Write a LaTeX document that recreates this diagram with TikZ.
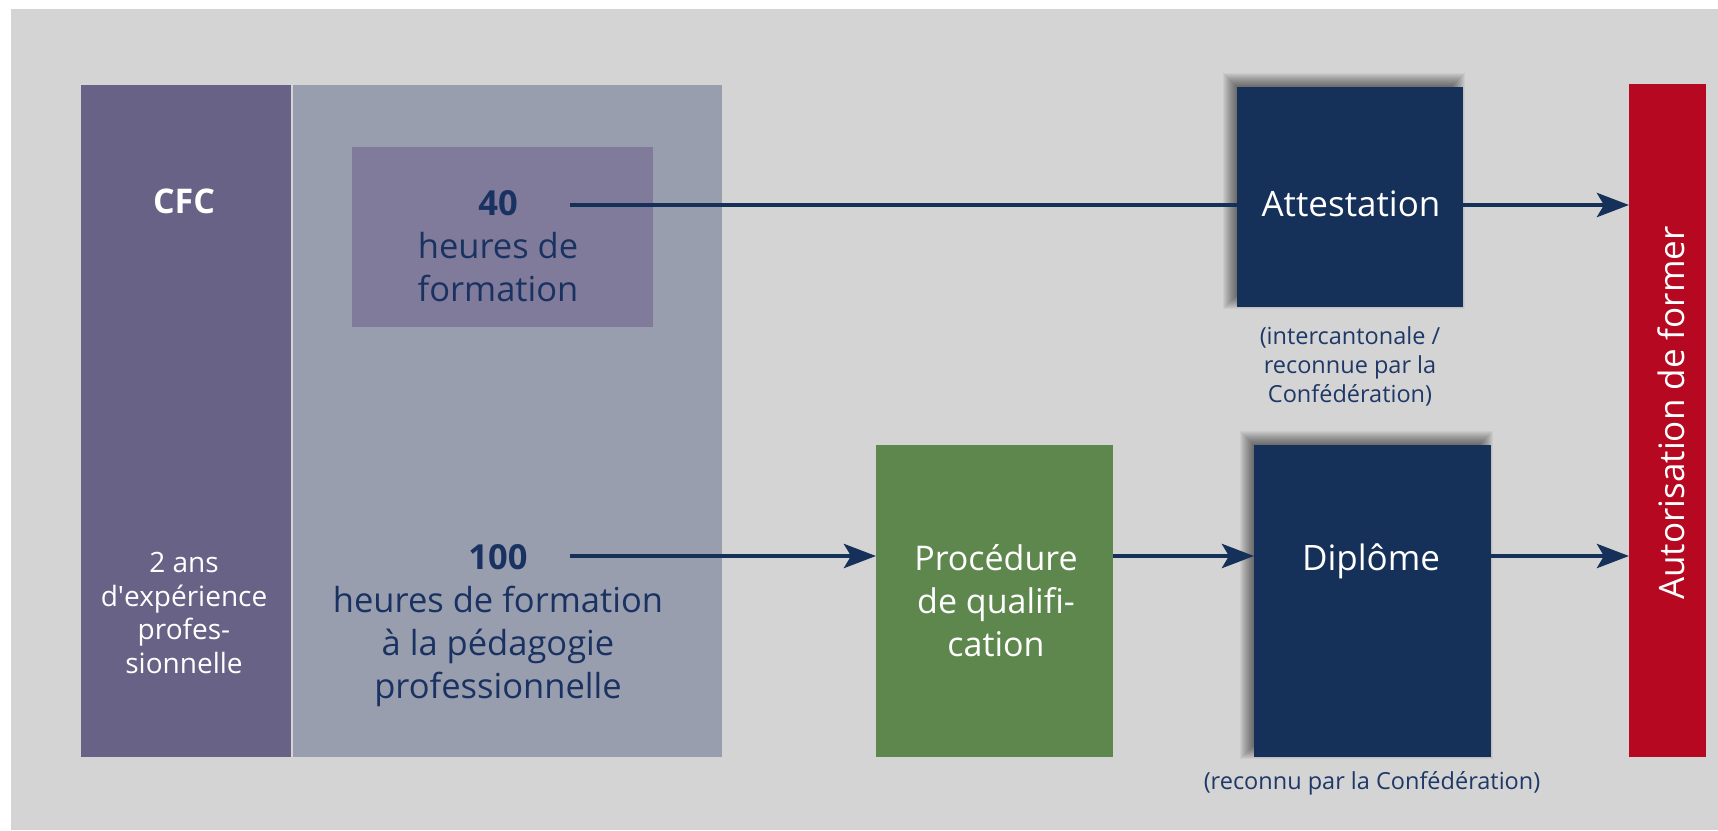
\documentclass[tikz,border=0pt]{standalone}
\usepackage{fontspec}
\setmainfont{Open Sans}
\usetikzlibrary{arrows.meta}
\definecolor{bggray}{HTML}{D4D4D4}
\definecolor{cfcpurple}{HTML}{686386}
\definecolor{pedagray}{HTML}{999EAE}
\definecolor{innerpurple}{HTML}{807B9B}
\definecolor{navy}{HTML}{153059}
\definecolor{navytext}{HTML}{1A3262}
\definecolor{subnavy}{HTML}{1E3868}
\definecolor{qualgreen}{HTML}{5E874D}
\definecolor{authred}{HTML}{B70821}
\pgfdeclarelayer{shadowlayer}
\pgfsetlayers{shadowlayer,main}
\begin{document}
\begin{tikzpicture}[x=1pt,y=-1pt,
  box/.style={draw=none,inner sep=0pt,outer sep=0pt,rectangle},
  navybox/.style={box,fill=navy},
  lbl/.style={inner sep=0pt,outer sep=0pt,anchor=base,align=center},
  bigtxt/.style={lbl,text=navytext,font=\fontsize{34.5}{43}\selectfont},
  cfctxt/.style={lbl,text=white,font=\fontsize{28}{33.5}\selectfont},
  boxtxt/.style={lbl,text=white,font=\fontsize{35}{43}\selectfont},
  subtxt/.style={lbl,text=subnavy,font=\fontsize{23.5}{29}\selectfont},
  conn/.style={draw=navy,line width=4.7pt},
  arr/.style={conn,-{Stealth[length=32pt,width=24pt,inset=7pt]}},
  shadowpiece/.style={fill=black,opacity=0.045}
]
\useasboundingbox (0,0) rectangle (1718,830);
\begin{pgfonlayer}{shadowlayer}
\fill[white] (0,0) rectangle (1718,830);
\fill[bggray] (11,9) rectangle (1718,830);
\end{pgfonlayer}

% boxes
\node[box,fill=cfcpurple,minimum width=210pt,minimum height=672pt] (cfc) at (186,421) {};
\node[box,fill=pedagray,minimum width=429pt,minimum height=672pt] (peda) at (507.5,421) {};
\node[box,fill=innerpurple,minimum width=301pt,minimum height=180pt] (inner) at (502.5,237) {};
\node[navybox,minimum width=226pt,minimum height=220pt] (att) at (1350,197) {};
\node[box,fill=qualgreen,minimum width=237pt,minimum height=312pt] (proc) at (994.5,601) {};
\node[navybox,minimum width=237pt,minimum height=312pt] (dipl) at (1372.5,601) {};
\node[box,fill=authred,minimum width=77pt,minimum height=673pt] (auth) at (1667.5,420.5) {};

% soft shadows of the navy boxes (offset up and left)
\begin{pgfonlayer}{shadowlayer}
\foreach \e in {-9,-8,...,8}{
  \fill[shadowpiece] ([shift={(-6-\e,-6-\e)}]att.north west) rectangle ([shift={(-6+\e,-6+\e)}]att.south east);
  \fill[shadowpiece] ([shift={(-6-\e,-6-\e)}]dipl.north west) rectangle ([shift={(-6+\e,-6+\e)}]dipl.south east);
}
\end{pgfonlayer}

% texts
\node[lbl,text=white,font=\fontsize{34}{40}\selectfont\bfseries] (cfct) at (184,213) {CFC};
\node[cfctxt] (exp) at (184,673) {2 ans\\d\textquotesingle expérience\\profes-\\sionnelle};
\node[bigtxt] (t40) at (498,301) {\textbf{40}\\heures de\\formation};
\node[bigtxt] (t100) at (498,698) {\textbf{100}\\heures de formation\\à la pédagogie\\professionnelle};
\node[boxtxt] (attt) at (1351,216) {Attestation};
\node[subtxt] (atts) at (1350,402) {(intercantonale /\\reconnue par la\\Confédération)};
\node[lbl,text=white,font=\fontsize{34}{43}\selectfont] (proct) at (996,656) {Procédure\\de qualifi-\\cation};
\node[boxtxt] (diplt) at (1371,570) {Diplôme};
\node[subtxt] (dipls) at (1372,789) {(reconnu par la Confédération)};
\node[lbl,text=white,rotate=90,font=\fontsize{35}{42}\selectfont] (autht) at (1684,413) {Autorisation de former};

% connectors
\coordinate (c40) at (570,205);
\coordinate (c100) at (570,556);
\draw[conn] (c40) -- (att.west |- c40);
\draw[arr] (att.east |- c40) -- (auth.west |- c40);
\draw[arr] (c100) -- (proc.west |- c100);
\draw[arr] (proc.east |- c100) -- (dipl.west |- c100);
\draw[arr] (dipl.east |- c100) -- (auth.west |- c100);
\end{tikzpicture}
\end{document}
